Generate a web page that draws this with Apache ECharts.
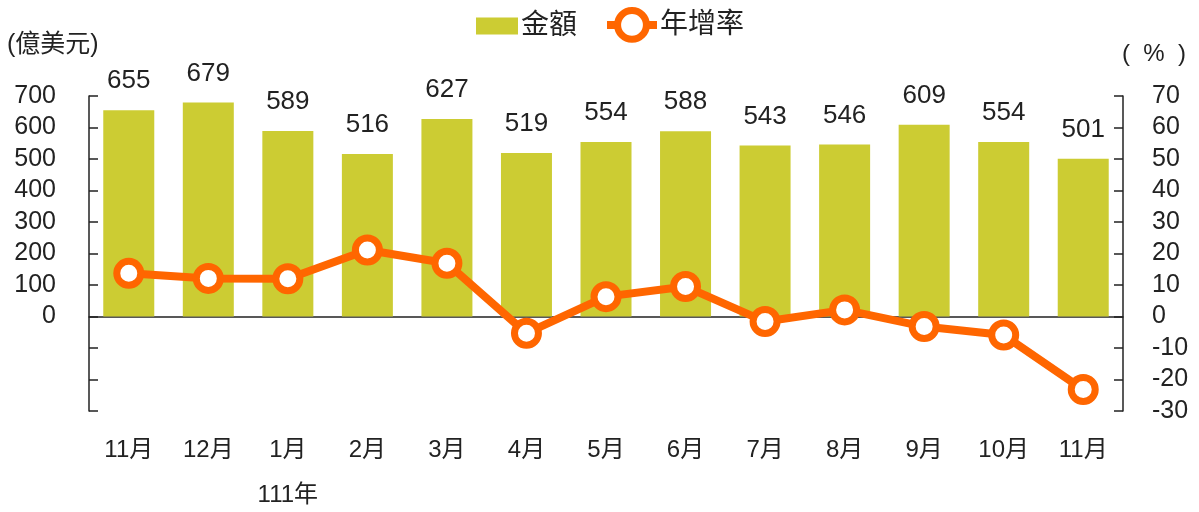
<!DOCTYPE html>
<html><head><meta charset="utf-8">
<script src="https://cdn.jsdelivr.net/npm/echarts@6/dist/echarts.min.js"></script>
<style>html,body{margin:0;padding:0;background:#fff}#c{width:1199px;height:512px}</style>
</head><body><div id="c"></div>
<script>
const categories = ['11月','12月','1月','2月','3月','4月','5月','6月','7月','8月','9月','10月','11月'];
const amount = [655, 679, 589, 516, 627, 519, 554, 588, 543, 546, 609, 554, 501];
const growth = [13.7, 12.1, 12.0, 21.1, 16.9, -5.3, 6.3, 9.5, -1.6, 2.1, -3.2, -5.9, -23.2];
const yearNote = '111年';
const FONT = '"Liberation Sans", "Noto Sans CJK TC", sans-serif';
const AXC = '#222';

const chart = echarts.init(document.getElementById('c'));
chart.setOption({
  animation: false,
  grid: {left: 89, right: 76, top: 96, bottom: 101, containLabel: false, outerBoundsMode: 'none'},
  legend: [
    {left: 476, top: 12, padding: 0, itemGap: 0, itemWidth: 42, itemHeight: 17,
     textStyle: {fontSize: 28, color: '#222', fontFamily: FONT, padding: [0,0,0,-2]},
     data: [{name: '金額', icon: 'rect'}]},
    {left: 603, top: 7, padding: 0, itemGap: 0, itemWidth: 50, itemHeight: 36,
     lineStyle: {width: 8, color: '#FF6600'},
     itemStyle: {color: '#fff', borderColor: '#FF6600', borderWidth: 7},
     textStyle: {fontSize: 28, color: '#222', fontFamily: FONT, padding: [0,0,0,-2]},
     data: [{name: '年增率'}]}
  ],
  graphic: [
    {type: 'text', left: 7, top: 33, style: {text: '(億美元)', fontSize: 25, fill: '#222', fontFamily: FONT}},
    {type: 'text', left: 1122, top: 42, style: {text: '(  %  )', fontSize: 24, fill: '#222', fontFamily: FONT}}
  ],
  xAxis: [
    {type: 'category', data: categories, axisLine: {onZero: true, lineStyle: {color: AXC, width: 1.5}},
     axisTick: {inside: true, length: 9, lineStyle: {color: AXC, width: 1.5}}, axisLabel: {show: false}},
    {type: 'category', data: categories, position: 'bottom', axisLine: {show: false, onZero: false},
     axisTick: {show: false},
     axisLabel: {margin: 17, fontSize: 24, color: '#222', fontFamily: FONT, lineHeight: 45,
       formatter: (v, i) => i === 2 ? v + '\n' + yearNote : v}}
  ],
  yAxis: [
    {type: 'value', min: -300, max: 700, interval: 100, splitLine: {show: false},
     axisLine: {show: true, lineStyle: {color: AXC, width: 1.5}},
     axisTick: {show: true, inside: true, length: 9, lineStyle: {color: AXC, width: 1.5}},
     axisLabel: {margin: 33, fontSize: 25, color: '#222', fontFamily: FONT,
       formatter: v => v < 0 ? '' : String(v)}},
    {type: 'value', min: -30, max: 70, interval: 10, splitLine: {show: false},
     axisLine: {show: true, lineStyle: {color: AXC, width: 1.5}},
     axisTick: {show: true, inside: true, length: 9, lineStyle: {color: AXC, width: 1.5}},
     axisLabel: {margin: 29, fontSize: 25, color: '#222', fontFamily: FONT}}
  ],
  series: [
    {name: '金額', type: 'bar', data: amount, barWidth: 51, xAxisIndex: 0, yAxisIndex: 0,
     itemStyle: {color: '#CCCC33'},
     label: {show: true, position: 'top', distance: 16, fontSize: 26, color: '#222', fontFamily: FONT}},
    {name: '年增率', type: 'line', data: growth, xAxisIndex: 0, yAxisIndex: 1,
     lineStyle: {color: '#FF6600', width: 8}, itemStyle: {color: '#fff', borderColor: '#FF6600', borderWidth: 7},
     symbol: 'circle', symbolSize: 24, z: 5}
  ]
});
</script></body></html>
